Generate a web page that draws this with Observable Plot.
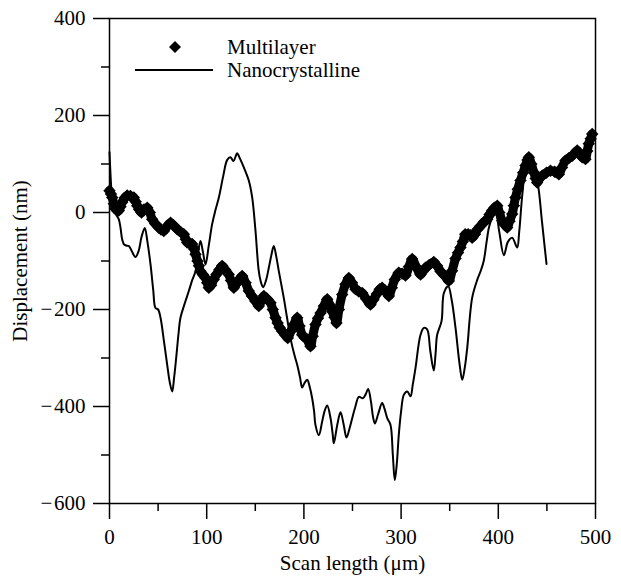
<!DOCTYPE html>
<html>
<head>
<meta charset="utf-8">
<script src="https://cdn.jsdelivr.net/npm/d3@7"></script>
<script src="https://cdn.jsdelivr.net/npm/@observablehq/plot@0.6"></script>
<style>
  html, body { margin: 0; padding: 0; background: white; }
  #chart { position: relative; width: 621px; height: 578px; }
  #chart svg { display: block; }
</style>
</head>
<body>
<div id="chart"></div>
<script>
// ---- data ----
const seriesNames = ["Multilayer", "Nanocrystalline"];
const xLabel = "Scan length (μm)";
const yLabel = "Displacement (nm)";
const xMajorTicks = [0, 100, 200, 300, 400, 500];
const xMinorTicks = [50, 150, 250, 350, 450];
const yMajorTicks = [-600, -400, -200, 0, 200, 400];
const yMinorTicks = [-500, -300, -100, 100, 300];

// Multilayer (diamond markers): scan length (µm), displacement (nm)
const multiX = [0,1.5,2.8,4.5,6.2,8,9.6,11.3,13,15.5,18.2,21.5,25,27,28.5,30.5,32.9,35.5,38.8,41.5,43.9,47,50.7,53,55.9,59,62.8,66,69.6,73,76.5,78.5,79.9,82.5,85,87,88.5,90.5,92,93.6,96,98.8,100.5,102.2,104.5,107.3,110,113,115.9,119,122.7,125,127.9,130.5,133.5,136.5,140,143.3,146.5,150.2,153.6,156,158.8,162,165.6,168,170.8,173,175,177.7,180.5,183.4,186.5,189.6,193.1,195.5,198.2,201,203.4,206.8,209,211.9,214.5,217.1,220.5,224,226.5,229.1,231.5,233.5,236,239.4,242.8,246.2,249.5,253.1,256.5,260,264,268.5,271.5,275,278,280.5,284,287.4,290.5,293.5,297.6,301,304.5,308,311.4,315.5,320,322.5,325.1,329,333.6,337,340.5,345,349.1,352.5,356,358.5,361.1,363.5,366,369,371.4,373.1,376,378.5,381.7,385,388.6,391,393.7,396,398.9,401,404,406.5,409.2,411.5,414.3,416,417.7,420,422.8,425.5,428,430,431.4,434,436.5,438.5,440,442.5,445.2,449.5,453.7,458,462.3,465.5,469.1,472.5,476,481.2,484,486.3,489.7,491.5,493.1,495,496.6];
const multiY = [45,38,31,18,7,4,4,12,21,30,35,34,31,22,14,6,0,6,10,0,-14,-23,-31,-35,-38,-29,-21,-27,-34,-40,-45,-55,-62,-64,-65,-75,-86,-100,-110,-121,-128,-135,-145,-155,-150,-138,-128,-118,-110,-118,-128,-140,-155,-147,-138,-131,-145,-162,-172,-183,-193,-183,-172,-178,-186,-200,-217,-228,-237,-245,-252,-259,-245,-231,-217,-234,-252,-258,-262,-276,-255,-231,-218,-207,-193,-179,-190,-204,-216,-228,-200,-169,-148,-135,-145,-158,-163,-166,-178,-190,-180,-168,-158,-155,-163,-172,-155,-138,-124,-126,-130,-112,-96,-112,-128,-121,-114,-108,-102,-110,-121,-131,-141,-120,-95,-83,-72,-60,-45,-45,-47,-52,-45,-35,-28,-20,-14,-4,4,10,14,0,-17,-25,-31,-18,-3,14,31,48,66,82,97,108,114,100,83,70,62,70,76,82,86,84,79,93,107,112,117,128,120,114,110,127,142,152,162];

// Nanocrystalline (solid line)
const nanoX = [0,1,2.2,4,7,9.6,11.3,13,14.7,17,19.9,23,26.7,30,33,36.3,39,42.2,45,47.3,50,52.5,56,59.3,62,64.5,66.5,68.6,71,73,77,81.6,85,88.5,91,93.6,96,98.8,102,105.6,109,112.5,117,121,124.5,127.5,131.4,134,138.2,143.3,146.8,150.2,153.6,156,158.1,161,163.9,166.5,169,171.5,174.2,179.3,182.5,186.2,190,193.1,196,198.2,200.5,203.4,206,208.5,210.5,211.9,215.4,218.8,221.5,224,227.4,229.5,230.8,234.3,237.7,241,243.8,247,249.7,253,256.5,260.6,263.5,266.1,269,271,273,276.5,280.5,283,285.7,289.1,291.5,293.5,295.5,297.6,300,302.8,306.3,309.7,312,314.8,320,323.4,326.8,330,333.6,335.5,337.1,341.6,344,348.5,352,356,360,362.9,365.5,368,373.1,378.5,382,385,388,390.5,394,397.5,401,405.7,410,414.3,419.4,421.5,424.6,428,431.4,434.5,438.3,441.7,445,449.6];
const nanoY = [124,80,40,10,-5,-14,-31,-55,-65,-68,-69,-80,-92,-79,-50,-32,-60,-107,-160,-197,-200,-217,-265,-313,-350,-369,-340,-300,-250,-217,-190,-162,-140,-121,-85,-59,-80,-107,-70,-24,5,31,75,108,114,106,122,112,93,66,31,-38,-121,-145,-154,-140,-114,-88,-69,-90,-121,-176,-215,-259,-292,-314,-340,-361,-352,-345,-360,-383,-410,-438,-459,-431,-408,-398,-424,-455,-476,-438,-412,-438,-464,-445,-424,-400,-380,-383,-375,-364,-390,-420,-435,-415,-393,-405,-424,-438,-500,-552,-520,-459,-410,-376,-369,-379,-355,-321,-252,-238,-241,-285,-326,-290,-252,-224,-166,-152,-180,-238,-310,-345,-320,-280,-176,-138,-120,-100,-60,-30,-10,-3,-40,-88,-60,-52,-72,-40,35,93,117,110,86,45,-20,-106];

const multi = multiX.map((x, i) => ({x, y: multiY[i]}));
const nano = nanoX.map((x, i) => ({x, y: nanoY[i]}));

const fmt = d => d < 0 ? "\u2212\u200A" + (-d) : String(d);
const font = "'Liberation Serif', 'Times New Roman', serif";

const chart = Plot.plot({
  width: 621,
  height: 578,
  marginLeft: 109,
  marginRight: 26,
  marginTop: 18,
  marginBottom: 75,
  style: {fontFamily: font, fontSize: "21px", color: "black", background: "white"},
  x: {domain: [0, 500]},
  y: {domain: [-600, 400]},
  marks: [
    Plot.frame({stroke: "black", strokeWidth: 1.5}),
    Plot.axisX(xMajorTicks, {tickSize: 16, tickPadding: 10, strokeWidth: 1.5, tickFormat: fmt,
      label: xLabel, labelAnchor: "center", labelArrow: "none", labelOffset: 66}),
    Plot.axisX(xMinorTicks, {tickSize: 8, strokeWidth: 1.5, tickFormat: () => "", label: null}),
    Plot.axisY(yMajorTicks, {tickSize: 16, tickPadding: 8, strokeWidth: 1.5, tickFormat: fmt,
      label: yLabel, labelAnchor: "center", labelArrow: "none", labelOffset: 97}),
    Plot.axisY(yMinorTicks, {tickSize: 8, strokeWidth: 1.5, tickFormat: () => "", label: null}),
    Plot.line(nano, {x: "x", y: "y", stroke: "black", strokeWidth: 2, curve: "catmull-rom"}),
    // dense marker band: a thick stroke through the markers plus the diamonds themselves
    Plot.line(multi, {x: "x", y: "y", stroke: "black", strokeWidth: 9, strokeLinejoin: "round", strokeLinecap: "round", curve: "catmull-rom"}),
    Plot.dot(multi, {x: "x", y: "y", symbol: "diamond2", r: 5.6, fill: "black", stroke: "none"})
  ]
});

const container = document.getElementById("chart");
container.appendChild(chart);

// legend overlay
const leg = d3.select(container).append("svg")
  .attr("width", 621).attr("height", 578)
  .style("position", "absolute").style("left", "0px").style("top", "0px")
  .style("font-family", font).style("font-size", "21px");
const s = 6;
leg.append("path").attr("d", `M175,${47 - s}L${175 + s},47L175,${47 + s}L${175 - s},47Z`).attr("fill", "black");
leg.append("text").attr("x", 227).attr("y", 54).attr("fill", "black").text(seriesNames[0]);
leg.append("line").attr("x1", 135).attr("x2", 213).attr("y1", 70).attr("y2", 70)
  .attr("stroke", "black").attr("stroke-width", 1.8);
leg.append("text").attr("x", 227).attr("y", 77).attr("fill", "black").text(seriesNames[1]);
</script>
</body>
</html>
